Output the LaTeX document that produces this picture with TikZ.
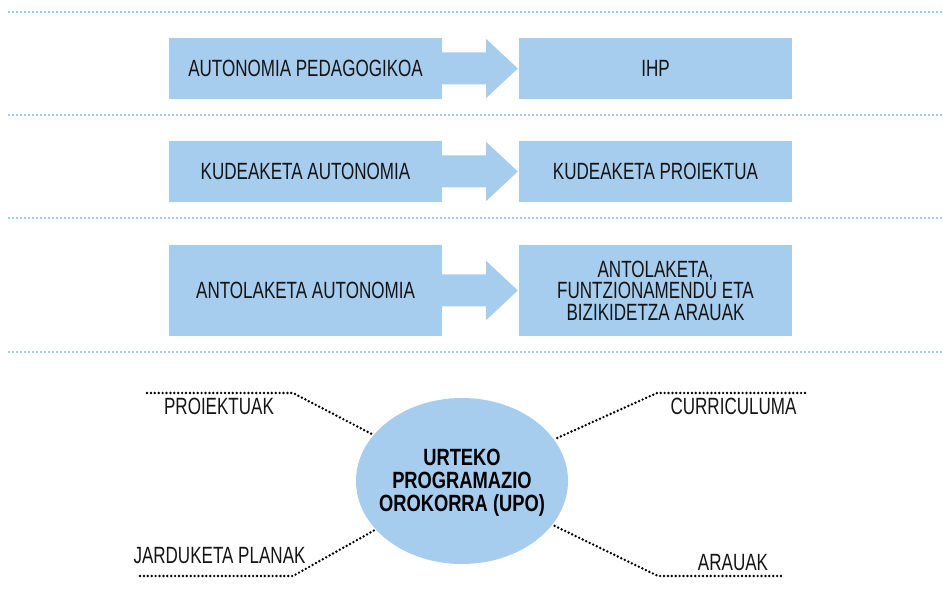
\documentclass[tikz,border=0pt]{standalone}
\usepackage{fontspec}
\setmainfont{Liberation Sans}[FakeStretch=0.725]
\newfontfamily\bldfont{Liberation Sans}[FakeStretch=0.78]
\usetikzlibrary{shapes.geometric,calc}
\definecolor{boxblue}{HTML}{A6CCEE}
\definecolor{dotblue}{HTML}{A4CAEC}
\definecolor{txt}{HTML}{151515}
\newcommand\myarrow[2]{%
  \fill[boxblue] ($(#1.east)+(0,-16)$) -- ($(#1.east)+(44,-16)$) -- ($(#1.east)+(44,-29.5)$)
    -- ($(#2.west)+(-1,0)$) -- ($(#1.east)+(44,29.5)$) -- ($(#1.east)+(44,16)$)
    -- ($(#1.east)+(0,16)$) -- cycle;}
\tikzset{
  bluebox/.style={fill=boxblue, minimum width=273pt, inner sep=0pt, text=txt,
    align=center, font=\fontsize{23.5}{21.5}\selectfont},
  sepline/.style={draw=dotblue, line width=2.2pt, dash pattern=on 2pt off 2pt},
  dotline/.style={draw=black, line width=2.7pt, dash pattern=on 0pt off 3.9pt, line cap=round},
  lbl/.style={text=txt, inner sep=0pt, font=\fontsize{23.5}{21}\selectfont},
}
\begin{document}
\begin{tikzpicture}[x=1pt,y=-1pt]
\useasboundingbox (0,0) rectangle (943,601);
\fill[white] (0,0) rectangle (943,601);
% separator lines
\coordinate (s1a) at (8,12);  \coordinate (s1b) at (943,12);
\coordinate (s2a) at (8,115); \coordinate (s2b) at (943,115);
\coordinate (s3a) at (8,218); \coordinate (s3b) at (943,218);
\coordinate (s4a) at (8,352); \coordinate (s4b) at (943,352);
\draw[sepline] (s1a) -- (s1b);
\draw[sepline] (s2a) -- (s2b);
\draw[sepline] (s3a) -- (s3b);
\draw[sepline] (s4a) -- (s4b);
% boxes
\node[bluebox, minimum height=61pt] (l1) at (305.5,68.5) {AUTONOMIA PEDAGOGIKOA};
\node[bluebox, minimum height=61pt] (r1) at (655.5,68.5) {IHP};
\node[bluebox, minimum height=61pt] (l2) at (305.5,171.5) {KUDEAKETA AUTONOMIA};
\node[bluebox, minimum height=61pt] (r2) at (655.5,171.5) {KUDEAKETA PROIEKTUA};
\node[bluebox, minimum height=91pt] (l3) at (305.5,290.5) {ANTOLAKETA AUTONOMIA};
\node[bluebox, minimum height=91pt] (r3) at (655.5,290.5) {ANTOLAKETA,\\FUNTZIONAMENDU ETA\\BIZIKIDETZA ARAUAK};
\myarrow{l1}{r1}
\myarrow{l2}{r2}
\myarrow{l3}{r3}
% ellipse
\node[ellipse, fill=boxblue, minimum width=212pt, minimum height=166pt, inner sep=0pt] (upo) at (462,481) {};
\node[align=center, inner sep=0pt, text=black, font=\bldfont\bfseries\fontsize{23.5}{23}\selectfont] (upot) at (462,483) {URTEKO\\PROGRAMAZIO\\OROKORRA (UPO)};
% connectors
\coordinate (c1e) at (147,393); \coordinate (c1) at (293,393);
\coordinate (c2e) at (140,576); \coordinate (c2) at (293,576);
\coordinate (c3) at (657,393); \coordinate (c3e) at (805,393);
\coordinate (c4) at (658,576); \coordinate (c4e) at (781,576);
\draw[dotline] (c1e) -- (c1) -- (upo);
\draw[dotline] (c2e) -- (c2) -- (upo);
\draw[dotline] (c3e) -- (c3) -- (upo);
\draw[dotline] (c4e) -- (c4) -- (upo);
% labels
\node[lbl] (p1) at (219,406) {PROIEKTUAK};
\node[lbl] (p2) at (219.5,556) {JARDUKETA PLANAK};
\node[lbl] (p3) at (733.5,406.5) {CURRICULUMA};
\node[lbl] (p4) at (733,563) {ARAUAK};
\end{tikzpicture}
\end{document}
